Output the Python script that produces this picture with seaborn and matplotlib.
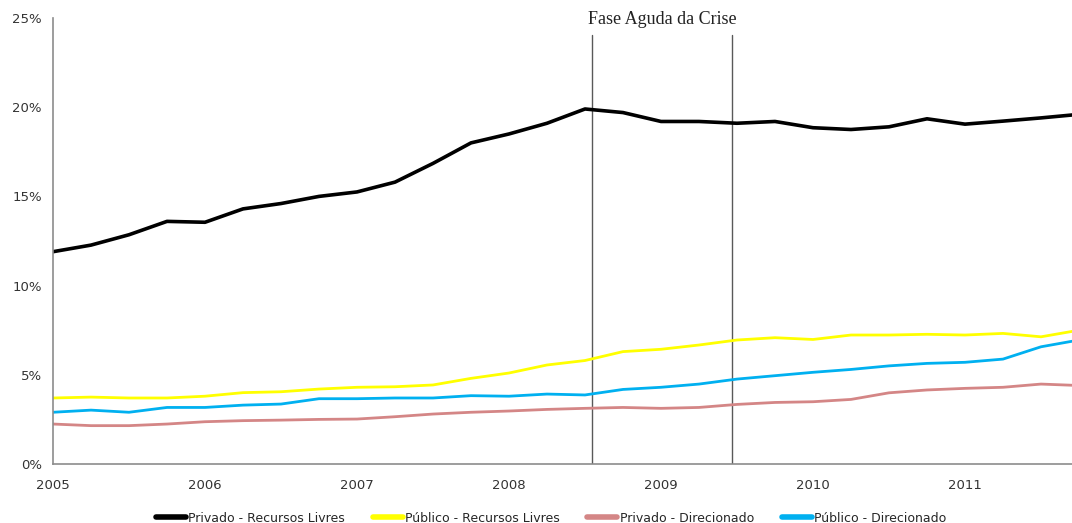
import numpy as np
import pandas as pd
import matplotlib
matplotlib.use("Agg")
import matplotlib.pyplot as plt
import seaborn as sns
from matplotlib.ticker import PercentFormatter

# ---- data (quarterly, 2005Q1 .. 2011Q4) ----
periods = [2005 + 0.25 * i for i in range(28)]

privado_livres = [11.9, 12.27, 12.85, 13.6, 13.55, 14.3, 14.6, 15.0,
                  15.25, 15.8, 16.85, 18.0, 18.5, 19.1, 19.9, 19.7,
                  19.2, 19.2, 19.1, 19.2, 18.85, 18.75, 18.9, 19.35,
                  19.05, 19.22, 19.4, 19.6]
publico_livres = [3.7, 3.75, 3.7, 3.7, 3.8, 4.0, 4.05, 4.2,
                  4.3, 4.33, 4.43, 4.8, 5.1, 5.55, 5.8, 6.3,
                  6.43, 6.67, 6.95, 7.08, 6.98, 7.23, 7.23, 7.27,
                  7.23, 7.32, 7.13, 7.5]
privado_direc = [2.24, 2.15, 2.15, 2.24, 2.37, 2.43, 2.46, 2.5,
                 2.52, 2.65, 2.8, 2.9, 2.97, 3.06, 3.12, 3.17,
                 3.12, 3.17, 3.34, 3.45, 3.49, 3.62, 3.99, 4.15,
                 4.24, 4.3, 4.48, 4.4]
publico_direc = [2.9, 3.02, 2.9, 3.17, 3.17, 3.3, 3.36, 3.66,
                 3.66, 3.7, 3.7, 3.83, 3.8, 3.92, 3.87, 4.18,
                 4.3, 4.48, 4.76, 4.95, 5.14, 5.3, 5.5, 5.64,
                 5.7, 5.88, 6.57, 6.95]

series_names = ["Privado - Recursos Livres", "Público - Recursos Livres",
                "Privado - Direcionado", "Público - Direcionado"]
series_colors = ["#000000", "#ffff00", "#d48686", "#00b0f0"]
year_ticks = [2005, 2006, 2007, 2008, 2009, 2010, 2011]
y_ticks = [0, 5, 10, 15, 20, 25]
crisis_bounds = [2008.546, 2009.467]
crisis_label = "Fase Aguda da Crise"

# ---- long-form table ----
frames = []
for name, vals in zip(series_names,
                      [privado_livres, publico_livres, privado_direc, publico_direc]):
    frames.append(pd.DataFrame({"periodo": periods, "valor": vals, "serie": name}))
df = pd.concat(frames, ignore_index=True)

sns.set_style("white")
narrow = ["Liberation Sans Narrow", "DejaVu Sans"]
plt.rcParams["font.family"] = narrow

fig = plt.figure(figsize=(10.72, 5.23), dpi=100)
ax = fig.add_axes([53 / 1072, 59 / 523, (1072 - 53) / 1072, (464 - 18) / 523])

palette = dict(zip(series_names, series_colors))
sns.lineplot(data=df, x="periodo", y="valor", hue="serie", hue_order=series_names,
             palette=palette, linewidth=2.0, ax=ax, legend=False)
for line in ax.get_lines():
    if matplotlib.colors.to_hex(line.get_color()) == "#000000":
        line.set_linewidth(2.6)

for xv in crisis_bounds:
    ax.plot([xv, xv], [0, 24.05], color="#595959", linewidth=1.0, zorder=1)
ax.text(sum(crisis_bounds) / 2, 24.45, crisis_label, ha="center", va="bottom",
        fontsize=13, family=["Liberation Serif", "DejaVu Serif"], color="#222222")

ax.set_xlim(2005, 2005 + (1072 - 53) / 152.0)
ax.set_ylim(0, 25)
ax.set_xticks(year_ticks)
ax.set_xticklabels([str(y) for y in year_ticks])
ax.set_yticks(y_ticks)
ax.yaxis.set_major_formatter(PercentFormatter(decimals=0))
ax.tick_params(axis="both", length=0, labelsize=9.5, colors="#333333")
ax.tick_params(axis="x", pad=11)
ax.tick_params(axis="y", pad=8)
ax.set_xlabel("")
ax.set_ylabel("")
for s in ["top", "right"]:
    ax.spines[s].set_visible(False)
for s in ["left", "bottom"]:
    ax.spines[s].set_color("#8c8c8c")
    ax.spines[s].set_linewidth(1.2)
ax.grid(False)

handles = [plt.Line2D([0], [0], color=c, linewidth=4) for c in series_colors]
fig.legend(handles, series_names, loc="lower center", bbox_to_anchor=(0.514, -0.025),
           ncol=4, frameon=False, fontsize=9, handlelength=2.4, handletextpad=0.2,
           columnspacing=2.2)

fig.savefig("out.png", dpi=100)
